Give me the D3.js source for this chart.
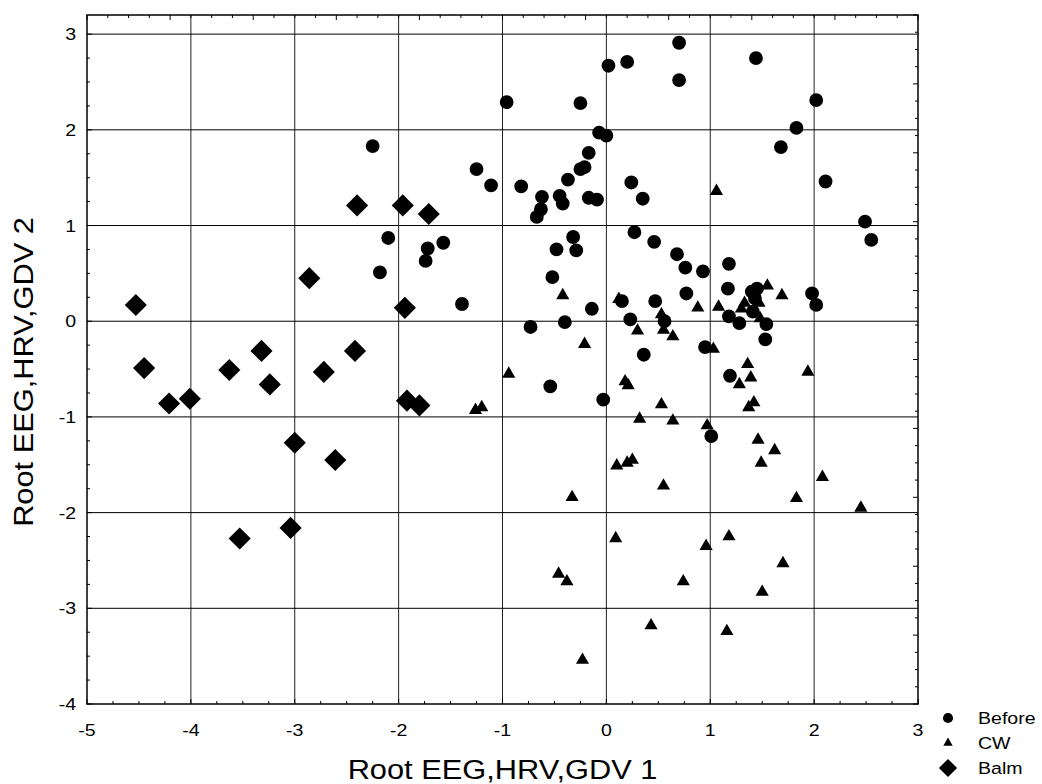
<!DOCTYPE html>
<html>
<head>
<meta charset="utf-8">
<script src="https://cdn.jsdelivr.net/npm/d3@7"></script>
<style>
    body { margin: 0; background: #fff; }
    text { font-family: Arial, "Liberation Sans", sans-serif; }
</style>
</head>
<body>
<div id="chart"></div>
<script>
// Values (root 1, root 2)
const beforePoints = [
    [-0.96, 2.29], [0.02, 2.67], [0.20, 2.71], [-0.25, 2.28], [-2.25, 1.83], [-0.07, 1.97],
    [0.00, 1.94], [-0.17, 1.76], [-0.21, 1.61], [-0.25, 1.59], [-1.25, 1.59], [-1.11, 1.42],
    [-0.82, 1.41], [-0.37, 1.48], [-0.62, 1.30], [-0.45, 1.31], [-0.42, 1.23], [-0.17, 1.29],
    [-0.09, 1.27], [0.24, 1.45], [0.35, 1.28], [-0.63, 1.17], [-0.67, 1.09], [-2.10, 0.87],
    [-1.72, 0.76], [-1.57, 0.82], [-0.32, 0.88], [-0.48, 0.75], [-0.29, 0.74], [0.27, 0.93],
    [0.46, 0.83], [0.70, 2.91], [1.44, 2.75], [0.70, 2.52], [2.02, 2.31], [1.83, 2.02],
    [1.68, 1.82], [2.11, 1.46], [2.49, 1.04], [2.55, 0.85], [0.68, 0.70], [0.76, 0.56],
    [0.93, 0.52], [1.18, 0.60], [0.77, 0.29], [0.47, 0.21], [1.17, 0.34], [1.40, 0.31],
    [1.45, 0.34], [1.43, 0.24], [1.41, 0.10], [1.98, 0.29], [2.02, 0.17], [1.18, 0.05],
    [1.28, -0.02], [1.54, -0.03], [1.53, -0.19], [0.56, 0.00], [0.95, -0.27], [0.36, -0.35],
    [1.19, -0.57], [1.01, -1.20], [-1.74, 0.63], [-2.18, 0.51], [-1.39, 0.18], [-0.52, 0.46],
    [-0.14, 0.13], [-0.40, -0.01], [-0.73, -0.06], [0.15, 0.21], [0.23, 0.02], [-0.54, -0.68],
    [-0.03, -0.82]
];

const cwPoints = [
    [1.06, 1.36], [1.55, 0.37], [1.69, 0.27], [0.88, 0.14], [1.08, 0.15], [1.33, 0.19],
    [1.30, 0.13], [1.47, 0.19], [1.48, 0.03], [0.53, 0.07], [0.55, -0.09], [0.30, -0.10],
    [0.64, -0.16], [1.03, -0.29], [1.36, -0.45], [1.39, -0.59], [1.28, -0.66], [1.94, -0.53],
    [1.42, -0.85], [1.37, -0.90], [0.53, -0.87], [0.32, -1.02], [0.64, -1.04], [0.97, -1.09],
    [1.46, -1.24], [1.62, -1.35], [1.49, -1.48], [2.08, -1.63], [-0.42, 0.27], [0.12, 0.23],
    [-0.21, -0.24], [-0.94, -0.55], [0.18, -0.63], [0.21, -0.67], [-1.26, -0.93], [-1.20, -0.90],
    [0.10, -1.51], [0.20, -1.48], [0.25, -1.45], [-0.33, -1.84], [0.09, -2.27], [-0.46, -2.64],
    [-0.38, -2.72], [-0.23, -3.54], [0.55, -1.72], [1.83, -1.85], [2.45, -1.95], [0.96, -2.35],
    [1.18, -2.25], [1.70, -2.53], [0.74, -2.72], [1.50, -2.83], [0.43, -3.18], [1.16, -3.24]
];

const balmPoints = [
    [-2.40, 1.21], [-1.96, 1.21], [-1.71, 1.12], [-4.53, 0.17], [-2.86, 0.45], [-4.45, -0.49],
    [-4.21, -0.86], [-4.01, -0.81], [-3.63, -0.51], [-3.32, -0.31], [-3.24, -0.66], [-2.72, -0.53],
    [-2.42, -0.31], [-3.00, -1.27], [-2.61, -1.45], [-1.94, 0.14], [-1.92, -0.83], [-1.80, -0.88],
    [-3.53, -2.27], [-3.04, -2.16]
];

const groupNames = ["Before", "CW", "Balm"];
const xTicks = [-5, -4, -3, -2, -1, 0, 1, 2, 3];
const yTicks = [-4, -3, -2, -1, 0, 1, 2, 3];
const xTitle = "Root EEG,HRV,GDV 1";
const yTitle = "Root EEG,HRV,GDV 2";

const W = 1042, H = 784;
const margin = { top: 15, right: 124, bottom: 80, left: 87 };
const width = W - margin.left - margin.right;
const height = H - margin.top - margin.bottom;

// the original font is drawn a bit wider than Arial
const labelStretch = 1.15;
const titleStretch = 1.1;

const x = d3.scaleLinear().domain([-5, 3]).range([0, width]);
const y = d3.scaleLinear().domain([-4, 3.2]).range([height, 0]);
// secondary (unlabelled) scales used for the top and right tick marks
const xTop = d3.scaleLinear().domain([0, 10]).range([0, width]);
const yRight = d3.scaleLinear().domain([0, 10]).range([height, 0]);

const symbols = {
    "Before": { type: d3.symbolCircle, size: 150, legendSize: 80, rotate: 0 },
    "CW": { type: d3.symbolTriangle, size: 75, legendSize: 38, rotate: 0 },
    "Balm": { type: d3.symbolSquare, size: 245, legendSize: 165, rotate: 45 }
};

const svg = d3.select("#chart")
    .append("svg")
    .attr("width", W)
    .attr("height", H);

const g = svg.append("g")
    .attr("transform", "translate(" + margin.left + "," + margin.top + ")");

// grid
g.append("g")
    .selectAll("line")
    .data(xTicks.slice(1, -1))
    .join("line")
    .attr("x1", d => x(d)).attr("x2", d => x(d))
    .attr("y1", 0).attr("y2", height)
    .attr("stroke", "#222").attr("stroke-width", 1);

g.append("g")
    .selectAll("line")
    .data(yTicks.slice(1))
    .join("line")
    .attr("x1", 0).attr("x2", width)
    .attr("y1", d => y(d)).attr("y2", d => y(d))
    .attr("stroke", "#000").attr("stroke-width", 1);

// inward tick marks on all four sides
const minorX = d3.range(-5, 3.001, 0.25);
const minorY = d3.range(-4, 3.2, 0.25);
const minorTop = d3.range(0, 10.001, 0.25);
const minorRight = d3.range(0, 10.001, 0.25);
const isMajor = d => Math.abs(d - Math.round(d)) < 1e-6;

g.append("g").selectAll("line").data(minorX).join("line")
    .attr("x1", d => x(d)).attr("x2", d => x(d))
    .attr("y1", height).attr("y2", d => height - (isMajor(d) ? 5 : 3))
    .attr("stroke", "#000");

g.append("g").selectAll("line").data(minorY).join("line")
    .attr("x1", 0).attr("x2", d => isMajor(d) ? 5 : 3)
    .attr("y1", d => y(d)).attr("y2", d => y(d))
    .attr("stroke", "#000");

g.append("g").selectAll("line").data(minorTop).join("line")
    .attr("x1", d => xTop(d)).attr("x2", d => xTop(d))
    .attr("y1", 0).attr("y2", d => isMajor(d) ? 5 : 3)
    .attr("stroke", "#000");

g.append("g").selectAll("line").data(minorRight).join("line")
    .attr("x1", width).attr("x2", d => width - (isMajor(d) ? 5 : 3))
    .attr("y1", d => yRight(d)).attr("y2", d => yRight(d))
    .attr("stroke", "#000");

// frame
g.append("rect")
    .attr("width", width)
    .attr("height", height)
    .attr("fill", "none")
    .attr("stroke", "#000")
    .attr("stroke-width", 1.5);

// tick labels
g.append("g").selectAll("text").data(xTicks).join("text")
    .attr("transform", d => "translate(" + x(d) + "," + (height + 32) + ") scale(" + labelStretch + ",1)")
    .attr("text-anchor", "middle")
    .attr("font-size", 17)
    .text(d => d);

g.append("g").selectAll("text").data(yTicks).join("text")
    .attr("transform", d => "translate(-11," + y(d) + ") scale(" + labelStretch + ",1)")
    .attr("dy", "0.36em")
    .attr("text-anchor", "end")
    .attr("font-size", 17)
    .text(d => d);

// axis titles
svg.append("text")
    .attr("transform", "translate(" + (margin.left + x(-1)) + ",779) scale(" + titleStretch + ",1)")
    .attr("text-anchor", "middle")
    .attr("font-size", 28)
    .text(xTitle);

svg.append("text")
    .attr("transform", "translate(33,372) rotate(-90) scale(" + titleStretch + ",1)")
    .attr("text-anchor", "middle")
    .attr("font-size", 28)
    .text(yTitle);

// points
const groups = [
    { name: "Before", points: beforePoints },
    { name: "CW", points: cwPoints },
    { name: "Balm", points: balmPoints }
];

groups.forEach(grp => {
    const s = symbols[grp.name];
    const path = d3.symbol().type(s.type).size(s.size)();
    g.append("g")
        .attr("class", "pts")
        .selectAll("path")
        .data(grp.points)
        .join("path")
        .attr("d", path)
        .attr("transform", d => "translate(" + x(d[0]) + "," + y(d[1]) + ") rotate(" + s.rotate + ")")
        .attr("fill", "#000");
});

// legend
const legend = svg.append("g")
    .attr("transform", "translate(948, 718)");

legend.selectAll("g")
    .data(groupNames)
    .join("g")
    .attr("transform", (d, i) => "translate(0," + i * 25 + ")")
    .each(function (d) {
        const s = symbols[d];
        d3.select(this).append("path")
            .attr("d", d3.symbol().type(s.type).size(s.legendSize)())
            .attr("transform", "rotate(" + s.rotate + ")")
            .attr("fill", "#000");
        d3.select(this).append("text")
            .attr("transform", "translate(30,0) scale(" + labelStretch + ",1)")
            .attr("dy", "0.36em")
            .attr("font-size", 17)
            .text(d);
    });
</script>
</body>
</html>
